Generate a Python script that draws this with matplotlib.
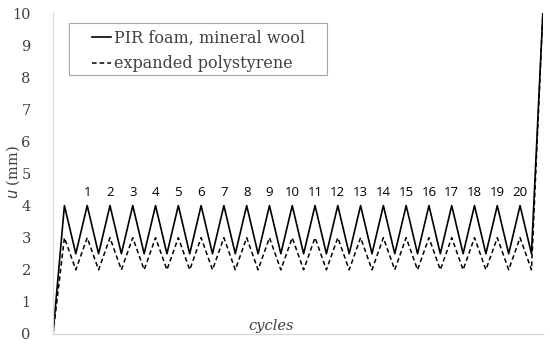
import matplotlib.pyplot as plt
from matplotlib.patches import Rectangle

# displacement values, one per loading step
pir_mw = [0, 4, 2.5, 4, 2.5, 4, 2.5, 4, 2.5, 4, 2.5, 4, 2.5, 4, 2.5, 4, 2.5,
          4, 2.5, 4, 2.5, 4, 2.5, 4, 2.5, 4, 2.5, 4, 2.5, 4, 2.5, 4, 2.5,
          4, 2.5, 4, 2.5, 4, 2.5, 4, 2.5, 4, 2.5, 10]
eps = [0, 3, 2, 3, 2, 3, 2, 3, 2, 3, 2, 3, 2, 3, 2, 3, 2,
       3, 2, 3, 2, 3, 2, 3, 2, 3, 2, 3, 2, 3, 2, 3, 2,
       3, 2, 3, 2, 3, 2, 3, 2, 3, 2, 10]
cycle_labels = [str(i) for i in range(1, 21)]
y_ticks = [0, 1, 2, 3, 4, 5, 6, 7, 8, 9, 10]

serif = 'DejaVu Serif'
sans = 'Open Sans'
grey = '#404040'

fig = plt.figure(figsize=(5.5, 3.46), dpi=100)
ax = fig.add_axes([0.0964, 0.0347, 0.8906, 0.9277])

steps = list(range(len(pir_mw)))
ax.plot(steps, pir_mw, color='black', lw=1.2, label='PIR foam, mineral wool')
ax.plot(steps, eps, color='black', lw=1.1, ls=(0, (3, 2)), label='expanded polystyrene')

# cycle numbers sit over the peaks after the first one
peaks = [i for i in steps[1:-1] if pir_mw[i] > pir_mw[i - 1] and pir_mw[i] > pir_mw[i + 1]]
for lab, p in zip(cycle_labels, peaks[1:]):
    ax.text(p, pir_mw[p] + 0.42, lab, ha='center', va='center', fontsize=9.5,
            family=sans)

ax.set_xlim(0, len(pir_mw) - 1)
ax.set_ylim(0, 10)
ax.set_xticks([])
ax.set_yticks(y_ticks)
ax.tick_params(axis='y', length=0, pad=16, labelsize=10.5, labelcolor=grey)
for t in ax.get_yticklabels():
    t.set_family(serif)

for s in ['top', 'right']:
    ax.spines[s].set_visible(False)
for s in ['left', 'bottom']:
    ax.spines[s].set_color('#d9d9d9')
    ax.spines[s].set_linewidth(1)

ax.set_ylabel(r'$u$ (mm)', family=serif, fontsize=10.5, color=grey)
ax.yaxis.set_label_coords(-0.064, 0.505)
ax.text(0.445, 0.004, 'cycles', transform=ax.transAxes, ha='center', va='bottom',
        family=serif, style='italic', fontsize=10.5, color=grey)

# legend frame is wider than the entries, so draw it separately
ax.add_patch(Rectangle((0.033, 0.807), 0.526, 0.162, transform=ax.transAxes,
                       fill=False, edgecolor='#a6a6a6', lw=0.8, zorder=4))
leg = ax.legend(loc='upper left', bbox_to_anchor=(0.08, 0.949), frameon=False,
                handlelength=1.2, handletextpad=0.15, borderpad=0,
                labelspacing=0.55, borderaxespad=0,
                prop={'family': serif, 'size': 11.5})
for t in leg.get_texts():
    t.set_color(grey)

fig.savefig('out.png', dpi=100)
